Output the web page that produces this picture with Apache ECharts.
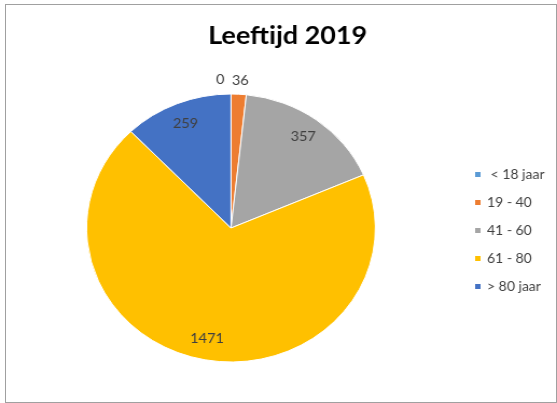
<!DOCTYPE html>
<html><head><meta charset="utf-8">
<script src="https://cdn.jsdelivr.net/npm/echarts@6/dist/echarts.min.js"></script>
<style>
html,body{margin:0;padding:0;background:#fff;width:557px;height:403px;overflow:hidden;}
#frame{position:absolute;left:5px;top:4px;width:552px;height:399px;border:1px solid #a0a0a0;box-sizing:border-box;}
#chart{position:absolute;left:0;top:0;width:517px;height:403px;transform:scaleX(1.0774);transform-origin:0 0;}
</style></head><body>
<div id="frame"></div><div id="chart"></div>
<script>
const titleText = 'Leeftijd 2019';
const categories = [' < 18 jaar', '19 - 40', '41 - 60', '61 - 80', '> 80 jaar'];
const values = [0, 36, 357, 1471, 259];
const colors = ['#5B9BD5', '#ED7D31', '#A5A5A5', '#FFC000', '#4472C4'];
const outsideLabel = [true, true, false, false, false];

const font = 'Lato, "Liberation Sans", sans-serif';
const chart = echarts.init(document.getElementById('chart'), null, {renderer: 'canvas'});

const mainData = categories.map((name, i) => ({
  name: name,
  value: values[i],
  itemStyle: {color: colors[i]},
  label: {show: outsideLabel[i]}
}));
const labelData = categories.map((name, i) => ({
  value: values[i],
  label: {show: !outsideLabel[i]}
}));

chart.setOption({
  animation: false,
  textStyle: {fontFamily: font},
  title: {
    text: titleText,
    left: 262, top: 18, textAlign: 'center',
    textStyle: {fontFamily: font, fontSize: 25, fontWeight: 'bold', color: '#000'}
  },
  legend: {
    data: categories,
    orient: 'vertical',
    left: 434, top: 163,
    icon: 'rect', itemWidth: 7, itemHeight: 7, itemGap: 15,
    textStyle: {fontFamily: font, fontSize: 13, color: '#404040'},
    selectedMode: false
  },
  series: [
    {
      type: 'pie',
      center: [214.4, 228],
      radius: 134,
      startAngle: 90,
      clockwise: true,
      avoidLabelOverlap: false,
      silent: true,
      itemStyle: {borderColor: '#fff', borderWidth: 1},
      label: {position: 'outside', formatter: '{c}', fontSize: 13.5, color: '#404040', fontFamily: font},
      labelLine: {show: false, length: 14, length2: 0},
      labelLayout: function (p) {
        return p.dataIndex === 0 ? {align: 'right', dx: -1} : {align: 'left', dx: -12};
      },
      emphasis: {disabled: true},
      data: mainData
    },
    {
      type: 'pie',
      center: [214.4, 228],
      radius: 220,
      startAngle: 90,
      clockwise: true,
      silent: true,
      avoidLabelOverlap: false,
      itemStyle: {color: 'rgba(0,0,0,0)', borderWidth: 0},
      label: {position: 'inside', formatter: '{c}', fontSize: 13.5, color: '#404040', fontFamily: font},
      labelLine: {show: false},
      emphasis: {disabled: true},
      data: labelData
    }
  ]
});
</script>
</body></html>
